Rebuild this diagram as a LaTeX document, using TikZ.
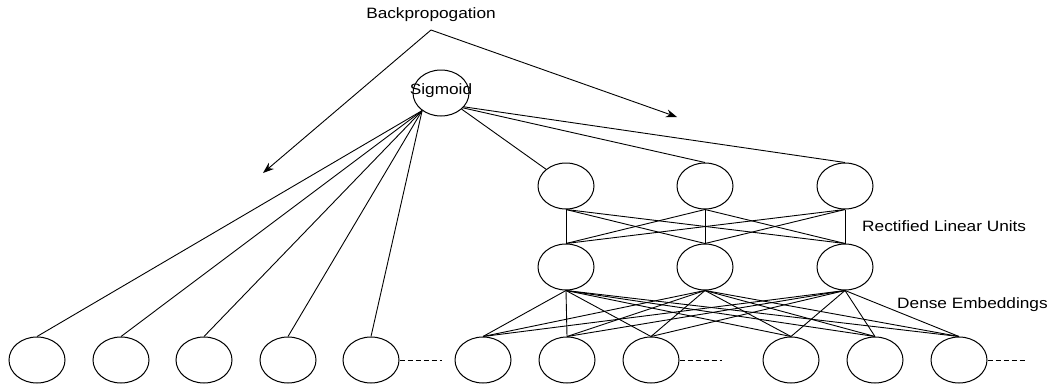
\documentclass[tikz,border=0pt]{standalone}
\usepackage{fontspec}
\setmainfont{Liberation Sans}[FakeStretch=1.15]
\usetikzlibrary{shapes.geometric,arrows.meta}
\begin{document}
\begin{tikzpicture}[x=1pt,y=-1pt,
  unit/.style={draw,ellipse,line width=1pt,minimum width=56pt,minimum height=46pt,inner sep=0pt},
  conn/.style={line width=0.9pt},
  backarrow/.style={line width=0.9pt,-{Stealth[length=11pt,width=8pt]}},
  dots/.style={line width=0.9pt,dash pattern=on 5pt off 3pt},
  lbl/.style={inner sep=0pt,font=\fontsize{15}{18}\selectfont}]
\useasboundingbox (0,0) rectangle (1050,386);
% output
\node[unit,label={[lbl,yshift=2.5pt]center:Sigmoid}] (sig) at (441,93) {};
% hidden layers
\node[unit] (h1) at (566,186) {};
\node[unit] (h2) at (705,186) {};
\node[unit] (h3) at (845,186) {};
\node[unit] (m1) at (566,267) {};
\node[unit] (m2) at (705,267) {};
\node[unit] (m3) at (845,267) {};
% wide inputs
\node[unit] (b1) at (37,360) {};
\node[unit] (b2) at (121,360) {};
\node[unit] (b3) at (204,360) {};
\node[unit] (b4) at (288,360) {};
\node[unit] (b5) at (371,360) {};
% embedding inputs
\node[unit] (c1) at (483,360) {};
\node[unit] (c2) at (567,360) {};
\node[unit] (c3) at (651,360) {};
\node[unit] (c4) at (791,360) {};
\node[unit] (c5) at (875,360) {};
\node[unit] (c6) at (959,360) {};
% dashes
\coordinate (d1) at (442,360);
\coordinate (d2) at (722,360);
\coordinate (d3) at (1025,360);
\draw[dots] (b5.east) -- (d1);
\draw[dots] (c3.east) -- (d2);
\draw[dots] (c6.east) -- (d3);
% labels
\node[lbl,anchor=base] (bp) at (431,18) {Backpropogation};
\node[lbl,anchor=base west] (relu) at (862,231) {Rectified Linear Units};
\node[lbl,anchor=base west] (dense) at (897,308) {Dense Embeddings};
% backprop arrows
\coordinate (apex) at (431,30);
\coordinate (la) at (263,173);
\coordinate (ra) at (677,117);
\draw[backarrow] (apex) -- (la);
\draw[backarrow] (apex) -- (ra);
% sigmoid to wide
\foreach \b in {b1,b2,b3,b4,b5} \draw[conn] (sig.-137) -- (\b.north);
% sigmoid to deep
\draw[conn] (sig.-38) -- (h1.140);
\draw[conn] (sig.-34) -- (h2.north);
\draw[conn] (sig.-31) -- (h3.north);
% hidden to hidden
\foreach \h in {h1,h2,h3} \foreach \m in {m1,m2,m3} \draw[conn] (\h.south) -- (\m.north);
% hidden to embeddings
\foreach \m in {m1,m2,m3} \foreach \c in {c1,c2,c3,c4,c5,c6} \draw[conn] (\m.south) -- (\c.north);
\end{tikzpicture}
\end{document}
